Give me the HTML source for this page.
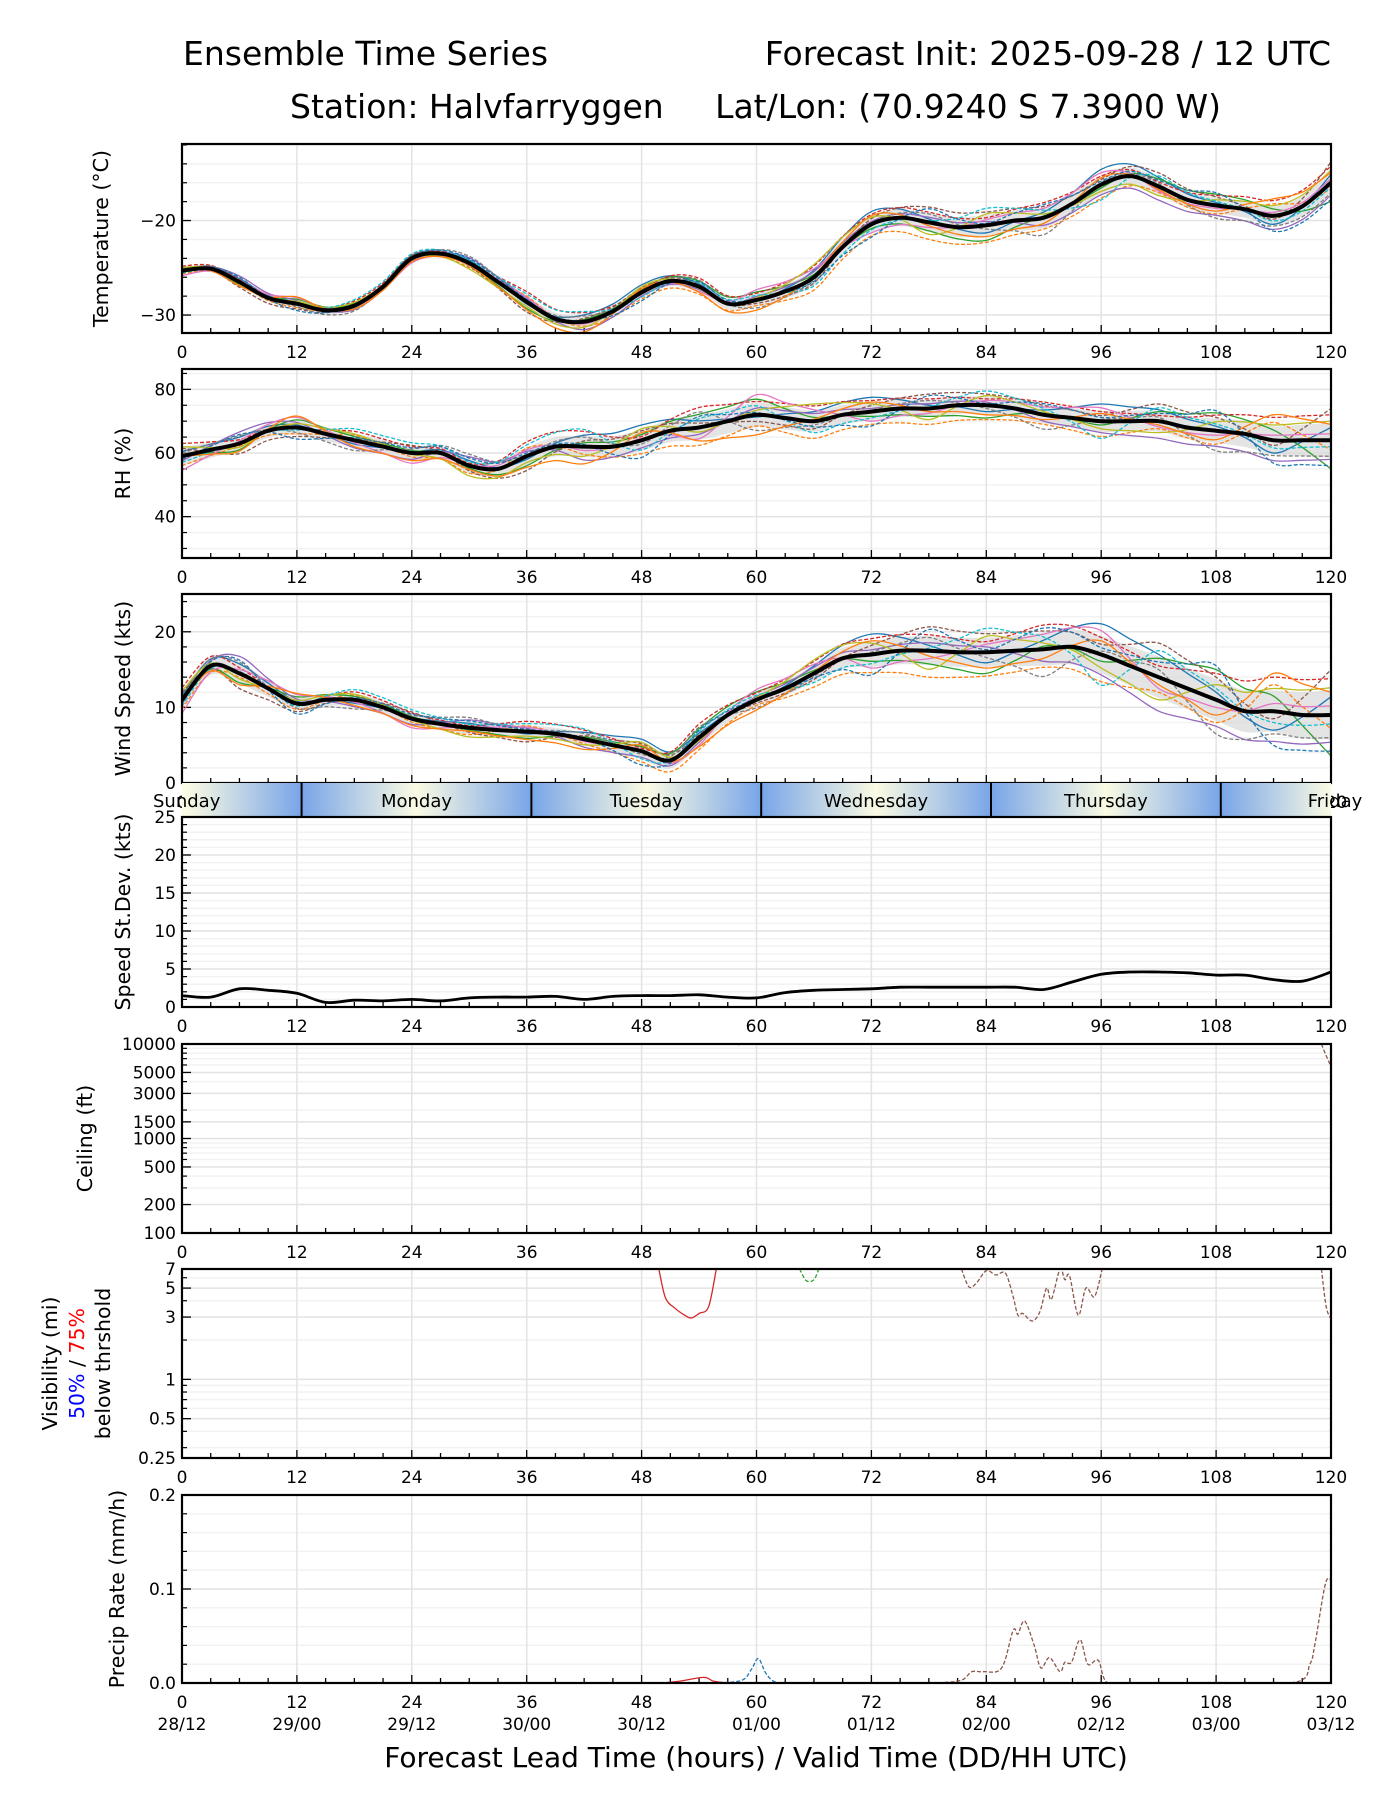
<!DOCTYPE html>
<html><head><meta charset="utf-8">
<style>
html,body{margin:0;padding:0;background:#fff;}
svg{display:block;font-family:"DejaVu Sans","Liberation Sans",sans-serif;}
</style></head>
<body>
<svg id="chart" width="1400" height="1800" viewBox="0 0 1400 1800" xmlns="http://www.w3.org/2000/svg">
<text x="183" y="65" font-size="33">Ensemble Time Series</text>
<text x="1331" y="65" font-size="33" text-anchor="end">Forecast Init: 2025-09-28 / 12 UTC</text>
<text x="290" y="118" font-size="33">Station: Halvfarryggen</text>
<text x="1221" y="118" font-size="33" text-anchor="end">Lat/Lon: (70.9240 S 7.3900 W)</text>
<text x="756" y="1767" font-size="28" text-anchor="middle">Forecast Lead Time (hours) / Valid Time (DD/HH UTC)</text>
</svg>
<script>
// ---------- data ----------
const hours3 = [0,3,6,9,12,15,18,21,24,27,30,33,36,39,42,45,48,51,54,57,60,63,66,69,72,75,78,81,84,87,90,93,96,99,102,105,108,111,114,117,120];
const hours6 = [0,6,12,18,24,30,36,42,48,54,60,66,72,78,84,90,96,102,108,114,120];
const tempMean = [-25.3,-25.1,-26.5,-28.2,-28.8,-29.5,-29.0,-27.0,-24.0,-23.5,-24.5,-26.5,-28.6,-30.4,-30.7,-29.6,-27.6,-26.4,-27.0,-28.8,-28.4,-27.5,-26.0,-22.8,-20.4,-19.7,-20.2,-20.7,-20.5,-20.0,-19.7,-18.2,-16.2,-15.3,-16.4,-17.8,-18.4,-18.8,-19.5,-18.5,-16.0];
const rhMean = [59,61,63,67,68,66,64,62,60,60,56,55,59,62,62,62,64,67,68,70,72,71,70,72,73,74,74,75,75,74,72,71,70,70,70,68,67,66,64,64,64];
const windMean = [11,15.5,14.5,12.5,10.5,11,11,10,8.5,7.8,7.3,7,6.8,6.5,5.8,5,4.2,3,6,9,11,12.5,14.5,16.5,17,17.5,17.5,17.3,17.3,17.5,17.7,18,17,15.5,14,12.5,11,9.5,9.5,9,9];
const stdMean = [1.5,1.3,2.4,2.2,1.8,0.6,0.9,0.8,1.0,0.8,1.2,1.3,1.3,1.4,1.0,1.4,1.5,1.5,1.6,1.3,1.2,1.9,2.2,2.3,2.4,2.6,2.6,2.6,2.6,2.6,2.3,3.3,4.3,4.6,4.6,4.5,4.2,4.2,3.6,3.4,4.6];
const tempSpread = [0.6,0.7,0.8,0.7,0.6,0.8,1.2,1.2,1.0,1.0,1.2,1.5,1.5,1.8,2.0,2.0,1.8,1.6,1.5,1.8,2.2];
const rhSpread = [5,4,4,4,4,4,5,6,6,7,7,6,5,5,5,5,6,6,7,8,10];
const windSpread = [2,2.5,1.5,1.5,1.5,1.5,1.5,1.5,2,2,1.5,2,3,3.5,3.5,4,4.5,5,5,5,6];
const memberShape = [
 [0.3,0.5,0.2,-0.3,0.1,0.4,-0.2,0.6,0.8,0.3,-0.1,0.5,0.9,0.2,-0.4,0.3,0.9,0.6,0.2,-0.5,0.4],
 [-0.6,-0.2,-0.5,0.4,-0.3,-0.6,0.5,-0.4,-0.7,-0.8,-0.5,-0.9,-0.8,-1.0,-0.9,-0.6,-0.8,-0.4,-0.6,0.7,-0.3],
 [0.1,-0.5,0.6,0.3,0.2,-0.2,-0.6,0.2,0.3,0.6,0.7,0.2,-0.3,-0.5,-0.8,0.1,-0.2,0.5,0.8,0.4,-0.9],
 [0.8,0.3,-0.1,0.7,0.5,0.2,0.9,0.8,0.2,0.9,0.6,0.8,0.7,0.6,0.4,0.8,0.5,0.3,0.7,0.9,0.8],
 [-0.3,0.9,0.4,-0.6,-0.5,0.7,0.3,-0.7,-0.4,-0.3,0.3,0.4,0.2,0.3,0.2,-0.4,-0.6,-0.9,-0.7,-0.8,-0.6],
 [0.5,-0.8,-0.7,0.1,0.6,-0.4,-0.9,0.3,0.5,0.2,-0.3,-0.4,0.4,0.9,0.7,0.6,0.3,0.9,0.6,-0.2,1.0],
 [-0.9,0.2,0.8,-0.2,-0.8,0.1,0.4,-0.2,0.1,-0.5,0.9,0.6,-0.6,-0.3,0.3,0.5,0.7,-0.3,-0.2,0.2,0.2],
 [0.2,0.6,-0.4,-0.8,0.3,0.9,0.1,0.5,-0.2,0.7,-0.7,-0.2,0.1,0.5,-0.2,-0.9,0.1,0.2,-0.9,-0.6,-0.5],
 [0.6,-0.3,0.3,0.5,-0.1,-0.8,-0.4,-0.5,0.6,-0.2,0.2,0.9,0.5,-0.7,0.6,0.2,-0.4,-0.6,0.4,0.6,0.6],
 [-0.4,0.1,-0.2,0.9,0.8,0.3,0.7,0.9,-0.5,0.4,0.4,-0.6,-0.4,0.1,0.9,0.4,-0.9,0.7,0.3,-0.3,-0.2],
 [0.0,-0.6,0.9,-0.5,-0.6,-0.3,-0.7,-0.9,0.4,-0.6,-0.9,0.1,0.6,-0.2,-0.6,-0.3,0.4,-0.2,-0.4,1.0,0.5],
 [-0.2,0.7,-0.9,0.2,0.4,0.6,0.2,0.1,-0.9,0.5,0.1,-0.3,-0.9,0.8,0.1,0.7,0.2,0.4,0.9,-0.9,-0.8]
];
const memberColors = ['#1f77b4','#ff7f0e','#2ca02c','#d62728','#9467bd','#8c564b','#e377c2','#7f7f7f','#bcbd22','#17becf','#ff7f0e','#1f77b4'];
const visRedHours = [49.8,50.5,51.5,52.5,53.2,54,55,55.8];
const visRedValues = [7,4.2,3.5,3.1,2.95,3.2,3.6,7];
const visGreenHours = [64.5,65.2,66,66.5];
const visGreenValues = [7,5.7,5.8,7];
const visBrownHours = [81.4,82.2,83,84,85,86,86.8,87.3,87.8,88.8,89.6,90.3,90.8,91.7,92.2,92.7,93.6,94.4,95.3,96.1];
const visBrownValues = [7,5.1,5.5,6.8,6.3,6.5,4.3,3.1,3.2,2.8,3.3,5.0,4.1,7,5.8,6.2,3.1,5.0,4.3,7];
const visBrownEndHours = [119,119.5,120];
const visBrownEndValues = [7,3.6,2.9];
const precipBrownHours = [79,81.4,82.5,83.7,85.6,86.8,87.3,88,89,89.7,90.6,91.7,92.2,92.9,93.8,94.6,95.7,96.7,100,108,116.3,117.8,118.3,119.4,120];
const precipBrownValues = [0,0.003,0.012,0.012,0.016,0.056,0.052,0.066,0.04,0.016,0.027,0.012,0.022,0.022,0.046,0.02,0.024,0,0,0.0005,0.001,0.02,0.04,0.105,0.11];
const precipBlueHours = [56,58.5,59.5,60.2,61,62,64];
const precipBlueValues = [0,0.003,0.015,0.026,0.01,0.001,0];
const precipRedHours = [50,52,54.5,55.5,57];
const precipRedValues = [0,0.002,0.006,0.002,0];
const ceilBrownHours = [119,119.5,120];
const ceilBrownValues = [10000,7500,5800];
const dayNames = ['Sunday','Monday','Tuesday','Wednesday','Thursday','Friday'];
const xTickLabels = ['0','12','24','36','48','60','72','84','96','108','120'];
const dateLabels = ['28/12','29/00','29/12','30/00','30/12','01/00','01/12','02/00','02/12','03/00','03/12'];

// ---------- helpers ----------
const NS='http://www.w3.org/2000/svg';
const svg=document.getElementById('chart');
const X0=182, X1=1331;
function xs(h){return X0+(h/120)*(X1-X0);}
function mk(tag,attrs,parent){const e=document.createElementNS(NS,tag);for(const k in attrs)e.setAttribute(k,attrs[k]);(parent||svg).appendChild(e);return e;}
function smoothPath(pts){
  if(pts.length<2)return '';
  let d='M'+pts[0][0].toFixed(1)+','+pts[0][1].toFixed(1);
  for(let i=0;i<pts.length-1;i++){
    const p0=pts[i-1]||pts[i],p1=pts[i],p2=pts[i+1],p3=pts[i+2]||p2;
    const c1x=p1[0]+(p2[0]-p0[0])/6,c1y=p1[1]+(p2[1]-p0[1])/6;
    const c2x=p2[0]-(p3[0]-p1[0])/6,c2y=p2[1]-(p3[1]-p1[1])/6;
    d+=' C'+c1x.toFixed(1)+','+c1y.toFixed(1)+' '+c2x.toFixed(1)+','+c2y.toFixed(1)+' '+p2[0].toFixed(1)+','+p2[1].toFixed(1);
  }
  return d;
}
function interp(hs,vs,h){for(let i=0;i<hs.length-1;i++){if(h>=hs[i]&&h<=hs[i+1]){const t=(h-hs[i])/(hs[i+1]-hs[i]);return vs[i]+t*(vs[i+1]-vs[i]);}}return vs[vs.length-1];}

function makePanel(name,top,bot,ys,majors,minors,labelFmt){
  const g=mk('g',{});
  
  
  const clipId='clip-'+name;
  const cp=mk('clipPath',{id:clipId},g);
  mk('rect',{x:X0,y:top,width:X1-X0,height:bot-top},cp);
  minors.forEach(v=>{const y=ys(v);mk('line',{x1:X0,x2:X1,y1:y,y2:y,stroke:'#f2f2f2','stroke-width':1.5},g);});
  majors.forEach(v=>{const y=ys(v);mk('line',{x1:X0,x2:X1,y1:y,y2:y,stroke:'#e3e3e3','stroke-width':1.5},g);});
  for(let h=12;h<120;h+=12){const x=xs(h);mk('line',{x1:x,x2:x,y1:top,y2:bot,stroke:'#e3e3e3','stroke-width':1.5},g);}
  for(let h=3;h<120;h+=3){const x=xs(h);const L=(h%12===0)?8:5;
    mk('line',{x1:x,x2:x,y1:bot,y2:bot-L,stroke:'#000','stroke-width':1.3},g);}
  majors.forEach(v=>{const y=ys(v);mk('line',{x1:X0,x2:X0+9,y1:y,y2:y,stroke:'#000','stroke-width':1.3},g);
    const t=mk('text',{x:X0-6,y:y+6,'font-size':17,'text-anchor':'end'},g);t.textContent=labelFmt(v);
    
    });
  minors.forEach(v=>{const y=ys(v);mk('line',{x1:X0,x2:X0+5,y1:y,y2:y,stroke:'#000','stroke-width':1.2},g);});
  xTickLabels.forEach((lab,i)=>{const t=mk('text',{x:xs(i*12),y:bot+25,'font-size':17,'text-anchor':'middle'},g);t.textContent=lab;
    
    });
  const plot=mk('g',{'clip-path':'url(#'+clipId+')'},g);
  const frame=mk('rect',{x:X0,y:top,width:X1-X0,height:bot-top,fill:'none',stroke:'#000','stroke-width':2.2},g);
  
  
  return plot;
}
function ylabel(x,cy,text,name){const t=mk('text',{x:0,y:0,'font-size':20.5,'text-anchor':'middle',transform:'translate('+x+','+cy+') rotate(-90)'});t.textContent=text;
  
  return t;}
function range(a,b,s){const r=[];for(let v=a;v<=b+1e-9;v+=s)r.push(+v.toFixed(4));return r;}

function ensemble(plot,name,mean,spread,ys,clampMin){
  const up=[],dn=[];
  hours3.forEach((h,i)=>{const s=interp(hours6,spread,h)*0.55;up.push([xs(h),ys(mean[i]+s)]);dn.push([xs(h),ys(Math.max(clampMin,mean[i]-s))]);});
  const band=mk('path',{d:smoothPath(up)+' L'+smoothPath(dn.slice().reverse()).slice(1)+' Z',fill:'#d9d9d9','fill-opacity':0.7,stroke:'none'},plot);
  
  
  memberShape.forEach((shape,m)=>{
    const fine=[];
    hours3.forEach((h,i)=>{const sh=interp(hours6,shape,h),sp=interp(hours6,spread,h);fine.push([xs(h),ys(Math.max(clampMin,mean[i]+sh*sp))]);});
    const p=mk('path',{d:smoothPath(fine),fill:'none',stroke:memberColors[m],'stroke-width':1.3,'stroke-dasharray':(m%2?'4,2':'none')},plot);
    
    
  });
  const mp=mk('path',{d:smoothPath(hours3.map((h,i)=>[xs(h),ys(mean[i])])),fill:'none',stroke:'#000','stroke-width':4},plot);
  
  
}
function line(plot,hs,vs,ys,color,dash,name){
  const p=mk('path',{d:smoothPath(hs.map((h,i)=>[xs(h),ys(vs[i])])),fill:'none',stroke:color,'stroke-width':1.3,'stroke-dasharray':dash},plot);
  
  
}

// ---------- temperature ----------
{const top=144,bot=333,lo=-31.9,hi=-11.9;const ys=v=>bot-(v-lo)/(hi-lo)*(bot-top);
 const plot=makePanel('temperature',top,bot,ys,[-30,-20],range(-30,-12,2).filter(v=>v!==-30&&v!==-20),v=>'\u2212'+Math.abs(v));
 ensemble(plot,'temperature',tempMean,tempSpread,ys,-99);
 ylabel(108,(top+bot)/2,'Temperature (\u00b0C)','temperature-y-title');}
// ---------- RH ----------
{const top=369,bot=558,lo=27,hi=86.4;const ys=v=>bot-(v-lo)/(hi-lo)*(bot-top);
 const plot=makePanel('rh',top,bot,ys,[40,60,80],range(30,85,5).filter(v=>v%20!==0),v=>String(v));
 ensemble(plot,'rh',rhMean,rhSpread,ys,0);
 ylabel(130,(top+bot)/2,'RH (%)','rh-y-title');}
// ---------- wind ----------
{const top=594,bot=783,lo=0,hi=25;const ys=v=>bot-(v-lo)/(hi-lo)*(bot-top);
 const plot=makePanel('wind',top,bot,ys,[0,10,20],range(2,24,2).filter(v=>v%10!==0),v=>String(v));
 ensemble(plot,'wind',windMean,windSpread,ys,0.2);
 ylabel(130,(top+bot)/2,'Wind Speed (kts)','wind-y-title');}
// ---------- day band ----------
{const top=783,bot=817;
 const defs=mk('defs',{});
 const lg=mk('linearGradient',{id:'dayGrad',x1:X0,x2:X1,y1:0,y2:0,gradientUnits:'userSpaceOnUse'},defs);
 for(let k=0;k<=5;k++){
   const noon=0.49+24*k, mid=12.49+24*k;
   mk('stop',{offset:(noon/120),'stop-color':'#fbfbe3'},lg);
   if(mid<120) mk('stop',{offset:(mid/120),'stop-color':'#78a5e8'},lg);
 }
 const r=mk('rect',{x:X0,y:top,width:X1-X0,height:bot-top,fill:'url(#dayGrad)'});
 
 
 dayNames.forEach((d,k)=>{
   let cx=xs(0.49+24*k);
   if(k===5) cx=X1+4;
   const t=mk('text',{x:cx,y:top+24,'font-size':18,'text-anchor':'middle'});t.textContent=d;
   
   
   if(k>0){const x=xs(12.49+24*(k-1));mk('line',{x1:x,x2:x,y1:top,y2:bot,stroke:'#000','stroke-width':2});}
 });}
// ---------- std dev ----------
{const top=817,bot=1007,lo=0,hi=25;const ys=v=>bot-(v-lo)/(hi-lo)*(bot-top);
 const plot=makePanel('stddev',top,bot,ys,[0,5,10,15,20,25],range(1,24,1).filter(v=>v%5!==0),v=>String(v));
 const p=mk('path',{d:smoothPath(hours3.map((h,i)=>[xs(h),ys(stdMean[i])])),fill:'none',stroke:'#000','stroke-width':2.8},plot);
 
 
 ylabel(130,(top+bot)/2,'Speed St.Dev. (kts)','stddev-y-title');}
// ---------- ceiling ----------
{const top=1044,bot=1233;const ys=v=>bot-(Math.log10(v)-2)/2*(bot-top);
 const plot=makePanel('ceiling',top,bot,ys,[100,200,500,1000,1500,3000,5000,10000],[300,400,600,700,800,900,2000,4000,6000,7000,8000,9000],v=>String(v));
 line(plot,ceilBrownHours,ceilBrownValues,ys,'#8c564b','4,2','ceiling-member-brown');
 line(plot,[57.8,58.2],[10000,9800],ys,'#1f77b4','none','ceiling-member-blue');
 ylabel(92,(top+bot)/2,'Ceiling (ft)','ceiling-y-title');}
// ---------- visibility ----------
{const top=1269,bot=1458;const lmin=Math.log10(0.25),lmax=Math.log10(7);const ys=v=>bot-(Math.log10(v)-lmin)/(lmax-lmin)*(bot-top);
 const plot=makePanel('visibility',top,bot,ys,[0.25,0.5,1,3,5,7],[0.3,0.4,0.6,0.7,0.8,0.9,2,4,6],v=>String(v));
 line(plot,visRedHours,visRedValues,ys,'#d62728','none','visibility-member-red');
 line(plot,visGreenHours,visGreenValues,ys,'#2ca02c','4,2','visibility-member-green');
 line(plot,visBrownHours,visBrownValues,ys,'#8c564b','4,2','visibility-member-brown');
 line(plot,visBrownEndHours,visBrownEndValues,ys,'#8c564b','4,2','visibility-member-brown-end');
 const cy=(top+bot)/2;
 ylabel(57,cy,'Visibility (mi)','visibility-y-title');
 const t=mk('text',{x:0,y:0,'font-size':20.5,'text-anchor':'middle',transform:'translate(84,'+cy+') rotate(-90)'});
 
 
 const a=mk('tspan',{fill:'#0000ff'},t);a.textContent='50%';
 const b=mk('tspan',{fill:'#000'},t);b.textContent=' / ';
 const c=mk('tspan',{fill:'#ff0000'},t);c.textContent='75%';
 ylabel(110,cy,'below thrshold','visibility-y-subtitle');}
// ---------- precip ----------
{const top=1495,bot=1683,lo=0,hi=0.2;const ys=v=>bot-(v-lo)/(hi-lo)*(bot-top);
 const plot=makePanel('precip',top,bot,ys,[0,0.1,0.2],range(0.02,0.18,0.02).filter(v=>Math.abs(v-0.1)>1e-6),v=>v.toFixed(1));
 line(plot,precipBrownHours,precipBrownValues,ys,'#8c564b','4,2','precip-member-brown');
 line(plot,precipBlueHours,precipBlueValues,ys,'#1f77b4','4,2','precip-member-blue');
 line(plot,precipRedHours,precipRedValues,ys,'#d62728','none','precip-member-red');
 ylabel(124,(top+bot)/2,'Precip Rate (mm/h)','precip-y-title');
 dateLabels.forEach((d,i)=>{const t=mk('text',{x:xs(i*12),y:bot+47,'font-size':17,'text-anchor':'middle'});t.textContent=d;
   
   });}
</script>
</body></html>
